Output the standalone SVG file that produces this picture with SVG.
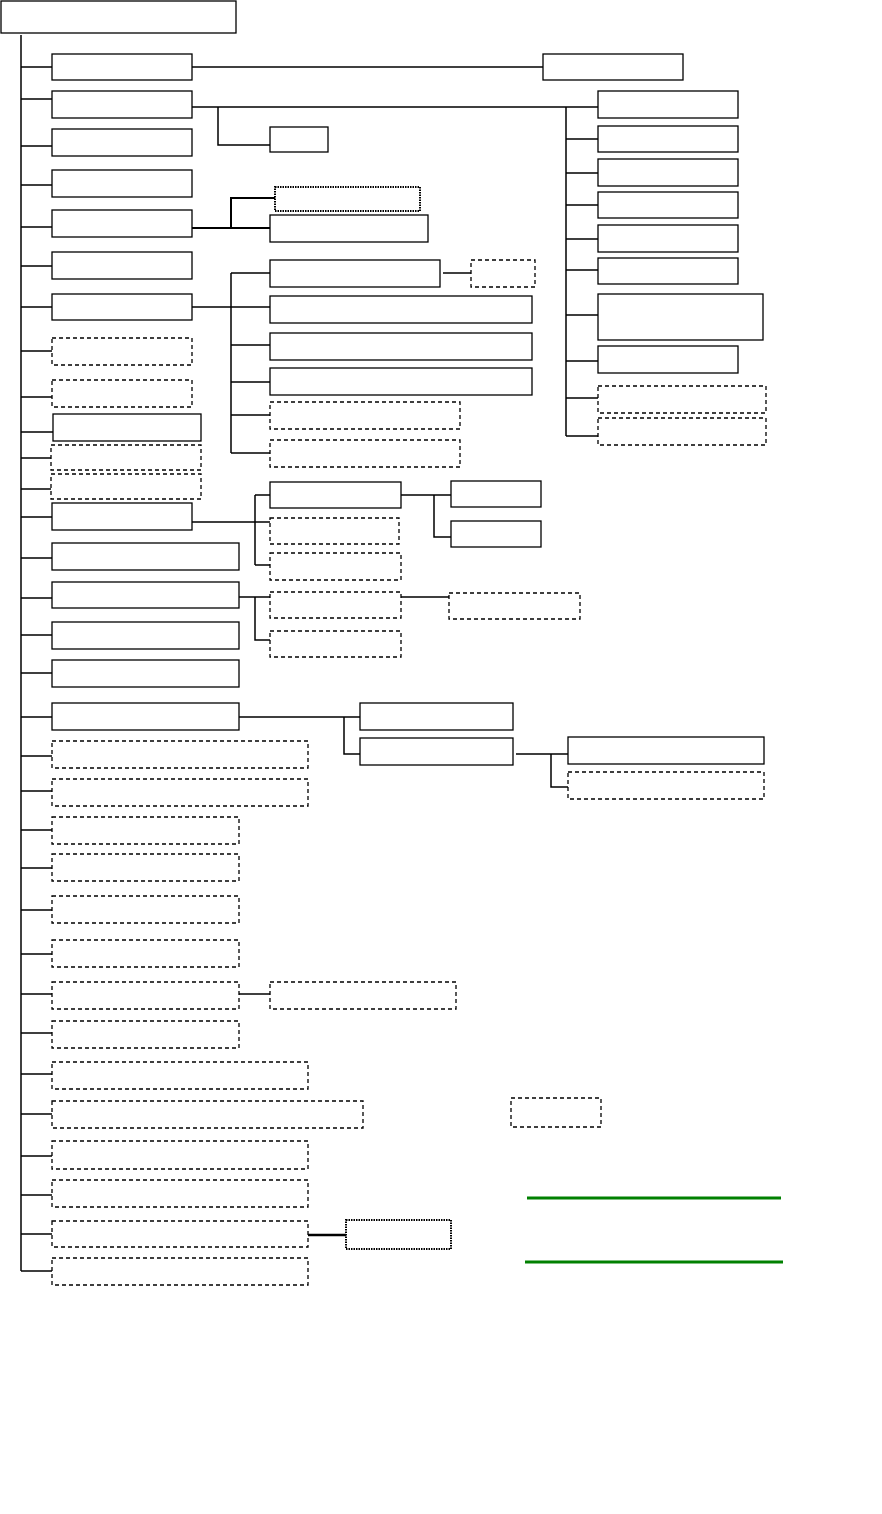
<svg xmlns="http://www.w3.org/2000/svg" width="882" height="1514" viewBox="0 0 882 1514">
<style>
rect{fill:#fff;stroke:#000;stroke-width:1.3}
.d{stroke-dasharray:4 3}
.o{stroke-dasharray:1.5 1;stroke-width:2}
#conn path{fill:none;stroke:#000;stroke-width:1.5}
.g{stroke:#008000;stroke-width:3;fill:none}
</style>
<rect x="0" y="0" width="882" height="1514" style="stroke:none"/>
<g id="conn">
<path d="M21 35V1271"/>
<path d="M21 67H52M21 99H52M21 146H52M21 185H52M21 227H52M21 266H52M21 307H52M21 351H52M21 397H52M21 432H53M21 458H51M21 489H51M21 517H52M21 558H52M21 598H52M21 635H52M21 673H52M21 717H52M21 756H52M21 791H52M21 830H52M21 868H52M21 910H52M21 954H52M21 994H52M21 1033H52M21 1074H52M21 1114H52M21 1156H52M21 1195H52M21 1234H52M21 1271H52"/>
<path d="M192 67H543"/>
<path d="M192 107H598M218 107V145H270"/>
<path d="M566 107V436M566 139H598M566 173H598M566 205H598M566 239H598M566 270H598M566 315H598M566 361H598M566 398H598M566 436H598"/>
<path d="M192 228H270M231 228V198H275" style="stroke-width:2"/>
<path d="M192 307H270M231 273V453M231 273H270M231 345H270M231 382H270M231 415H270M231 453H270"/>
<path d="M443 273H471"/>
<path d="M192 522H271M255 495V565M255 495H270M255 565H270"/>
<path d="M401 495H451M434 495V537H451"/>
<path d="M239 597H270M255 597V640H270M401 597H449"/>
<path d="M239 717H360M344 717V754H360"/>
<path d="M516 754H568M551 754V787H568"/>
<path d="M239 994H270"/>
<path d="M308 1235H346" style="stroke-width:2.5"/>
</g>
<g id="root"><rect x="1" y="1" width="235" height="32"/></g>
<g id="n1"><rect x="52" y="54" width="140" height="26"/></g>
<g id="n2"><rect x="52" y="91" width="140" height="27"/></g>
<g id="n3"><rect x="52" y="129" width="140" height="27"/></g>
<g id="n4"><rect x="52" y="170" width="140" height="27"/></g>
<g id="n5"><rect x="52" y="210" width="140" height="27"/></g>
<g id="n6"><rect x="52" y="252" width="140" height="27"/></g>
<g id="n7"><rect x="52" y="294" width="140" height="26"/></g>
<g id="n8"><rect class="d" x="52" y="338" width="140" height="27"/></g>
<g id="n9"><rect class="d" x="52" y="380" width="140" height="27"/></g>
<g id="n10"><rect x="53" y="414" width="148" height="27"/></g>
<g id="n11"><rect class="d" x="51" y="445" width="150" height="25"/></g>
<g id="n12"><rect class="d" x="51" y="474" width="150" height="25"/></g>
<g id="n13"><rect x="52" y="503" width="140" height="27"/></g>
<g id="n14"><rect x="52" y="543" width="187" height="27"/></g>
<g id="n15"><rect x="52" y="582" width="187" height="26"/></g>
<g id="n16"><rect x="52" y="622" width="187" height="27"/></g>
<g id="n17"><rect x="52" y="660" width="187" height="27"/></g>
<g id="n18"><rect x="52" y="703" width="187" height="27"/></g>
<g id="n19"><rect class="d" x="52" y="741" width="256" height="27"/></g>
<g id="n20"><rect class="d" x="52" y="779" width="256" height="27"/></g>
<g id="n21"><rect class="d" x="52" y="817" width="187" height="27"/></g>
<g id="n22"><rect class="d" x="52" y="854" width="187" height="27"/></g>
<g id="n23"><rect class="d" x="52" y="896" width="187" height="27"/></g>
<g id="n24"><rect class="d" x="52" y="940" width="187" height="27"/></g>
<g id="n25"><rect class="d" x="52" y="982" width="187" height="27"/></g>
<g id="n26"><rect class="d" x="52" y="1021" width="187" height="27"/></g>
<g id="n27"><rect class="d" x="52" y="1062" width="256" height="27"/></g>
<g id="n28"><rect class="d" x="52" y="1101" width="311" height="27"/></g>
<g id="n29"><rect class="d" x="52" y="1141" width="256" height="28"/></g>
<g id="n30"><rect class="d" x="52" y="1180" width="256" height="27"/></g>
<g id="n31"><rect class="d" x="52" y="1221" width="256" height="26"/></g>
<g id="n32"><rect class="d" x="52" y="1258" width="256" height="27"/></g>
<g id="r1"><rect x="543" y="54" width="140" height="26"/></g>
<g id="r2"><rect x="598" y="91" width="140" height="27"/></g>
<g id="r3"><rect x="598" y="126" width="140" height="26"/></g>
<g id="r4"><rect x="598" y="159" width="140" height="27"/></g>
<g id="r5"><rect x="598" y="192" width="140" height="26"/></g>
<g id="r6"><rect x="598" y="225" width="140" height="27"/></g>
<g id="r7"><rect x="598" y="258" width="140" height="26"/></g>
<g id="r8"><rect x="598" y="294" width="165" height="46"/></g>
<g id="r9"><rect x="598" y="346" width="140" height="27"/></g>
<g id="r10"><rect class="d" x="598" y="386" width="168" height="27"/></g>
<g id="r11"><rect class="d" x="598" y="418" width="168" height="27"/></g>
<g id="b2a"><rect x="270" y="127" width="58" height="25"/></g>
<g id="b5a"><rect class="o" x="275" y="187" width="145" height="24"/></g>
<g id="b5b"><rect x="270" y="215" width="158" height="27"/></g>
<g id="c1"><rect x="270" y="260" width="170" height="27"/></g>
<g id="c1a"><rect class="d" x="471" y="260" width="64" height="27"/></g>
<g id="c2"><rect x="270" y="296" width="262" height="27"/></g>
<g id="c3"><rect x="270" y="333" width="262" height="27"/></g>
<g id="c4"><rect x="270" y="368" width="262" height="27"/></g>
<g id="c5"><rect class="d" x="270" y="402" width="190" height="27"/></g>
<g id="c6"><rect class="d" x="270" y="440" width="190" height="27"/></g>
<g id="d1"><rect x="270" y="482" width="131" height="26"/></g>
<g id="d2"><rect class="d" x="270" y="518" width="129" height="26"/></g>
<g id="d3"><rect class="d" x="270" y="553" width="131" height="27"/></g>
<g id="e1"><rect x="451" y="481" width="90" height="26"/></g>
<g id="e2"><rect x="451" y="521" width="90" height="26"/></g>
<g id="f1"><rect class="d" x="270" y="592" width="131" height="26"/></g>
<g id="f1a"><rect class="d" x="449" y="593" width="131" height="26"/></g>
<g id="f2"><rect class="d" x="270" y="631" width="131" height="26"/></g>
<g id="h1"><rect x="360" y="703" width="153" height="27"/></g>
<g id="h2"><rect x="360" y="738" width="153" height="27"/></g>
<g id="h3"><rect x="568" y="737" width="196" height="27"/></g>
<g id="h4"><rect class="d" x="568" y="772" width="196" height="27"/></g>
<g id="k1"><rect class="d" x="270" y="982" width="186" height="27"/></g>
<g id="m1"><rect class="d" x="511" y="1098" width="90" height="29"/></g>
<g id="p1"><rect class="o" x="346" y="1220" width="105" height="29"/></g>
<g id="legend">
<path class="g" d="M527 1198H781"/>
<path class="g" d="M525 1262H783"/>
</g>
</svg>
